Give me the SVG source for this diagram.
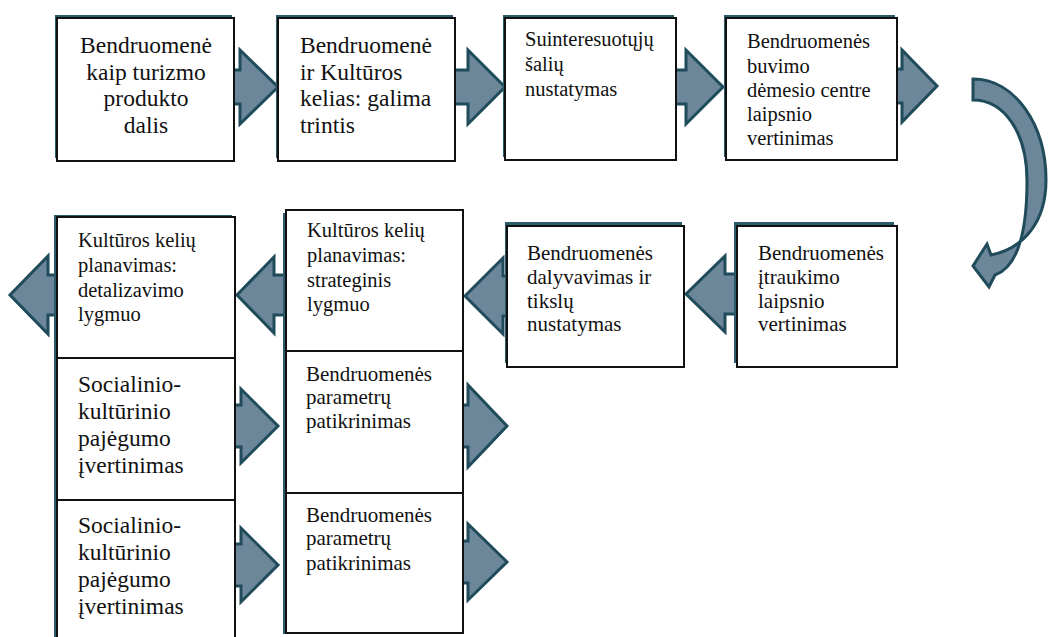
<svg xmlns="http://www.w3.org/2000/svg" width="1048" height="637" viewBox="0 0 1048 637">
<style>
.bx{fill:#fff;stroke:#111;stroke-width:2}
.sh{fill:#2b5b6b}
.ar{fill:#6b8799;stroke:#1f4b5b;stroke-width:3;stroke-linejoin:miter}
.t{font-family:"Liberation Serif","Times New Roman",serif;fill:#111}
.t24{font-size:23.5px}
.t20{font-size:20.5px}
.t21{font-size:21px}
.c{text-anchor:middle}
</style>
<rect width="1048" height="637" fill="#fff"/>
<g id="connectors">
<polygon class="ar" points="220,70 240,70 240,50 278,87 240,124 240,104 220,104"/>
<polygon class="ar" points="445,70 468,70 468,50 505,87 468,124 468,104 445,104"/>
<polygon class="ar" points="665,70 686,70 686,50 723,87 686,124 686,104 665,104"/>
<polygon class="ar" points="885,69 902,69 902,50 937,86 902,122 902,103 885,103"/>
<path class="ar" d="M973,79 C1015,79 1046,125 1046,180 C1046,222 1024,248 991,255 L987,244 L973,266 L989,287 L995,275 C1020,266 1027,226 1027,181 C1027,132 1004,100 973,100 Z"/>
<polygon class="ar" points="745,274 725,274 725,256 686,294 725,332 725,314 745,314"/>
<polygon class="ar" points="515,276 503,276 503,258 465,296 503,334 503,316 515,316"/>
<polygon class="ar" points="295,275 274,275 274,257 237,295 274,333 274,315 295,315"/>
<polygon class="ar" points="65,275 48,275 48,256 10,295 48,334 48,315 65,315"/>
<polygon class="ar" points="225,405 241,405 241,389 278,426 241,463 241,447 225,447"/>
<polygon class="ar" points="225,544 241,544 241,528 278,565 241,602 241,586 225,586"/>
<polygon class="ar" points="455,405 468,405 468,385 507,426 468,467 468,447 455,447"/>
<polygon class="ar" points="455,541 468,541 468,524 507,562 468,600 468,583 455,583"/>
</g>
<g id="n1">
<rect class="sh" x="55" y="15" width="177" height="143"/>
<rect class="bx" x="57" y="18" width="177" height="143"/>
<text class="t t24 c" x="146"><tspan x="146" y="53">Bendruomen&#279;</tspan><tspan x="146" y="80">kaip turizmo</tspan><tspan x="146" y="106">produkto</tspan><tspan x="146" y="133">dalis</tspan></text>
</g>
<g id="n2">
<rect class="sh" x="276" y="15" width="177" height="143"/>
<rect class="bx" x="278" y="18" width="177" height="143"/>
<text class="t t24" x="300"><tspan x="300" y="53">Bendruomen&#279;</tspan><tspan x="300" y="80">ir Kult&#363;ros</tspan><tspan x="300" y="106">kelias: galima</tspan><tspan x="300" y="133">trintis</tspan></text>
</g>
<g id="n3">
<rect class="sh" x="503" y="15" width="171" height="142"/>
<rect class="bx" x="505" y="18" width="171" height="142"/>
<text class="t t20" x="525"><tspan x="525" y="46">Suinteresuot&#371;j&#371;</tspan><tspan x="525" y="71">&#353;ali&#371;</tspan><tspan x="525" y="96">nustatymas</tspan></text>
</g>
<g id="n4">
<rect class="sh" x="724" y="15" width="171" height="142"/>
<rect class="bx" x="726" y="18" width="171" height="142"/>
<text class="t t20" x="747"><tspan x="747" y="48">Bendruomen&#279;s</tspan><tspan x="747" y="73">buvimo</tspan><tspan x="747" y="97">d&#279;mesio centre</tspan><tspan x="747" y="121">laipsnio</tspan><tspan x="747" y="145">vertinimas</tspan></text>
</g>
<g id="n5">
<rect class="sh" x="734" y="222" width="160" height="141"/>
<rect class="bx" x="737" y="226" width="160" height="141"/>
<text class="t t21" x="758"><tspan x="758" y="260">Bendruomen&#279;s</tspan><tspan x="758" y="284">&#303;traukimo</tspan><tspan x="758" y="308">laipsnio</tspan><tspan x="758" y="331">vertinimas</tspan></text>
</g>
<g id="n6">
<rect class="sh" x="505" y="222" width="177" height="141"/>
<rect class="bx" x="507" y="226" width="177" height="141"/>
<text class="t t21" x="527"><tspan x="527" y="260">Bendruomen&#279;s</tspan><tspan x="527" y="284">dalyvavimas ir</tspan><tspan x="527" y="308">tiksl&#371;</tspan><tspan x="527" y="331">nustatymas</tspan></text>
</g>
<g id="n7">
<rect class="sh" x="54" y="215" width="178" height="425"/>
<rect class="bx" x="57" y="217" width="178" height="141"/>
<text class="t t20" x="78"><tspan x="78" y="247">Kult&#363;ros keli&#371;</tspan><tspan x="78" y="272">planavimas:</tspan><tspan x="78" y="297">detalizavimo</tspan><tspan x="78" y="321">lygmuo</tspan></text>
</g>
<g id="n8">
<rect class="bx" x="57" y="358" width="178" height="142"/>
<text class="t t24" x="78"><tspan x="78" y="392">Socialinio-</tspan><tspan x="78" y="419">kult&#363;rinio</tspan><tspan x="78" y="446">paj&#279;gumo</tspan><tspan x="78" y="473">&#303;vertinimas</tspan></text>
</g>
<g id="n9">
<rect class="bx" x="57" y="500" width="178" height="142"/>
<text class="t t24" x="78"><tspan x="78" y="533">Socialinio-</tspan><tspan x="78" y="560">kult&#363;rinio</tspan><tspan x="78" y="587">paj&#279;gumo</tspan><tspan x="78" y="614">&#303;vertinimas</tspan></text>
</g>
<g id="n10">
<rect class="sh" x="283" y="213" width="177" height="421"/>
<rect class="bx" x="286" y="210" width="177" height="141"/>
<text class="t t20" x="307"><tspan x="307" y="237">Kult&#363;ros keli&#371;</tspan><tspan x="307" y="262">planavimas:</tspan><tspan x="307" y="287">strateginis</tspan><tspan x="307" y="311">lygmuo</tspan></text>
</g>
<g id="n11">
<rect class="bx" x="286" y="351" width="177" height="142"/>
<text class="t t21" x="306"><tspan x="306" y="381">Bendruomen&#279;s</tspan><tspan x="306" y="404">parametr&#371;</tspan><tspan x="306" y="428">patikrinimas</tspan></text>
</g>
<g id="n12">
<rect class="bx" x="286" y="493" width="177" height="140"/>
<text class="t t21" x="306"><tspan x="306" y="522">Bendruomen&#279;s</tspan><tspan x="306" y="545">parametr&#371;</tspan><tspan x="306" y="570">patikrinimas</tspan></text>
</g>
</svg>
